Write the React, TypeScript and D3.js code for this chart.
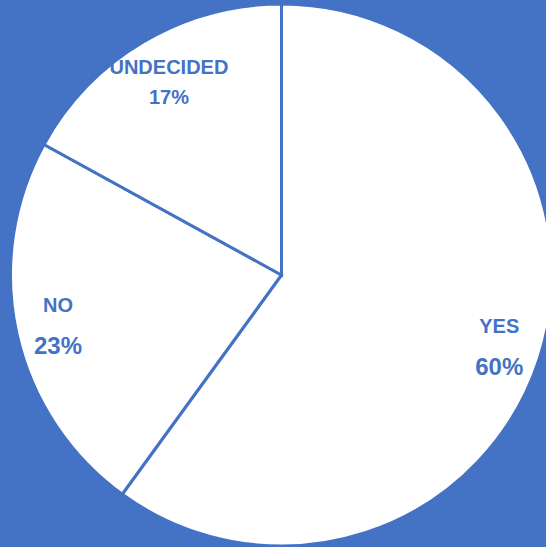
import React from "react";
import * as d3 from "d3";

const categories = ["YES", "NO", "UNDECIDED"];
const values = [60, 23, 17];

const W = 546;
const H = 547;
const BLUE = "#4472C4";

export default function App() {
  const cx = 281.5;
  const cy = 275;
  const R = 271;
  const pie = d3.pie<number>().sort(null).value((d) => d)(values);
  const arc = d3.arc<d3.PieArcDatum<number>>().innerRadius(0).outerRadius(R);
  const total = d3.sum(values);
  const labelR = R * 0.845;
  const labelArc = d3
    .arc<d3.PieArcDatum<number>>()
    .innerRadius(labelR)
    .outerRadius(labelR);

  return (
    <div style={{ position: "fixed", left: 0, top: 0 }}>
      <svg width={W} height={H} style={{ display: "block" }}>
        <rect x={0} y={0} width={W} height={H} fill={BLUE} />
        <g transform={`translate(${cx},${cy})`}>
          {pie.map((p, i) => (
            <path
              key={categories[i]}
              d={arc(p) || ""}
              fill="#ffffff"
              stroke={BLUE}
              strokeWidth={3}
              strokeLinejoin="miter"
            />
          ))}
          {pie.map((p, i) => {
            const [x, y] = labelArc.centroid(p);
            const pct = Math.round((values[i] / total) * 100) + "%";
            const big = categories[i].length <= 3;
            const x2 = big ? x : x + 4;
            return (
              <text
                key={"l" + i}
                textAnchor="middle"
                fill={BLUE}
                fontFamily="'Liberation Sans', Arial, sans-serif"
                fontWeight="bold"
              >
                <tspan x={x2} y={y + (big ? -13 : -4)} fontSize={20}>
                  {categories[i]}
                </tspan>
                <tspan x={x2} y={y + (big ? 29 : 26)} fontSize={big ? 24 : 20}>
                  {pct}
                </tspan>
              </text>
            );
          })}
        </g>
      </svg>
    </div>
  );
}
